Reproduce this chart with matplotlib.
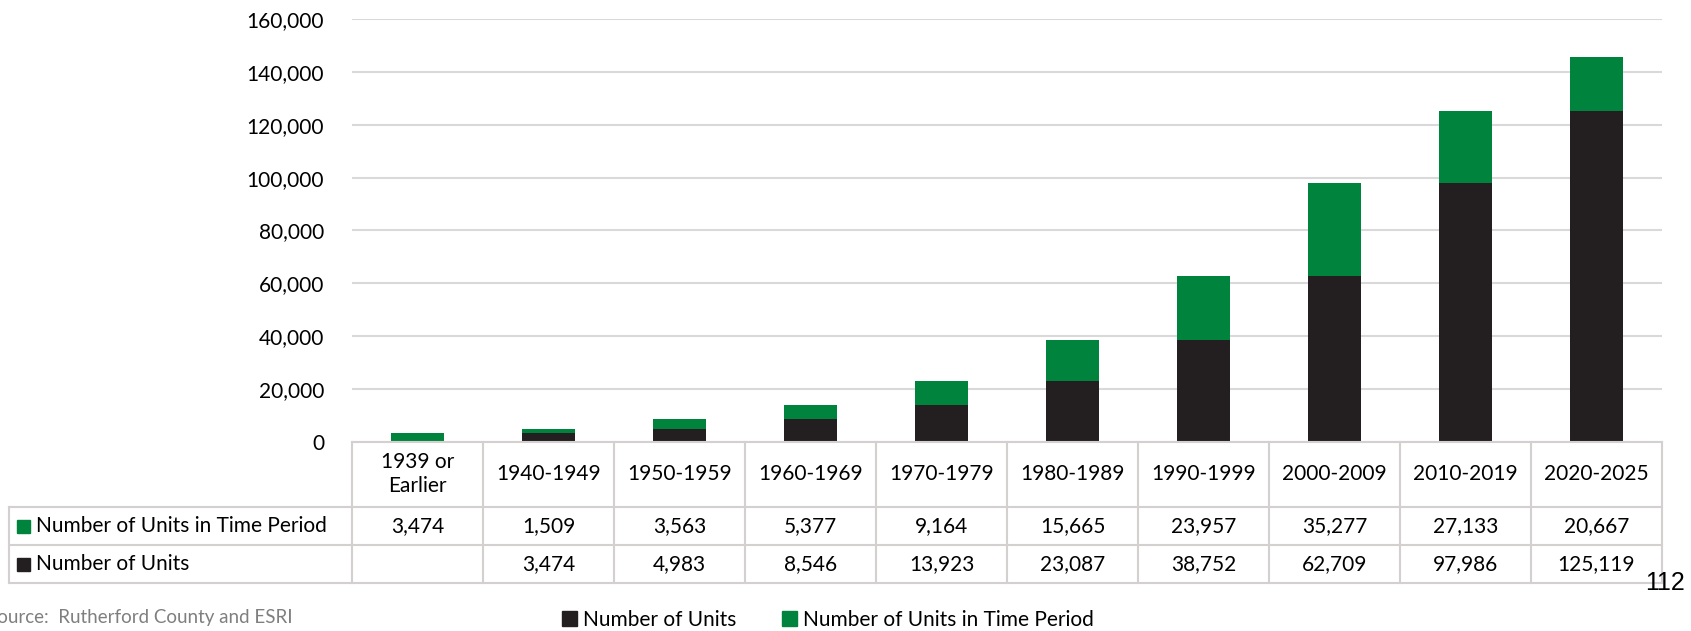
import matplotlib.pyplot as plt
from matplotlib.lines import Line2D
from matplotlib.patches import Patch, Rectangle
import numpy as np

categories = ["1939 or\nEarlier", "1940-1949", "1950-1959", "1960-1969", "1970-1979",
              "1980-1989", "1990-1999", "2000-2009", "2010-2019", "2020-2025"]
units_in_period = [3474, 1509, 3563, 5377, 9164, 15665, 23957, 35277, 27133, 20667]
number_of_units = [None, 3474, 4983, 8546, 13923, 23087, 38752, 62709, 97986, 125119]
row_names = ["Number of Units in Time Period", "Number of Units"]
yticks = list(range(0, 160001, 20000))
source = "Source:  Rutherford County and ESRI"
page_no = "112"

GREEN = "#00843D"
BLACK = "#231F20"
GRID = "#D9D9D9"
FONT = "Lato"
W, H = 1691, 631

plt.rcParams['font.family'] = [FONT, 'DejaVu Sans']
fig = plt.figure(figsize=(W / 100, H / 100), dpi=100)
ax = fig.add_axes([352 / W, 1 - 442 / H, (1662 - 352) / W, (442 - 19) / H])

x = np.arange(len(categories))
base = [u if u is not None else 0 for u in number_of_units]
ax.bar(x, base, 0.4, color=BLACK, zorder=3)
ax.bar(x, units_in_period, 0.4, bottom=base, color=GREEN, zorder=3)

ax.set_xlim(-0.5, len(categories) - 0.5)
ax.set_ylim(0, 160000)
ax.set_yticks(yticks)
ax.set_yticklabels([f"{v:,}" for v in yticks], fontsize=15, color="#000000")
ax.tick_params(axis='y', length=0, pad=20)
ax.set_xticks([])
ax.grid(axis='y', color=GRID, lw=1.5, zorder=0)
for s in ax.spines.values():
    s.set_visible(False)

# table below the axes
def fx(px):
    return px / W

def fy(py):
    return 1 - py / H

edges = [fig.transFigure.inverted().transform(ax.transData.transform((i - 0.5, 0)))[0]
         for i in range(len(categories) + 1)]
y_top, y_head, y_r1, y_r2 = fy(442), fy(507), fy(545), fy(583)
lab_left = fx(9)
lc = "#D4D0D0"
lw = 1.5

fig.add_artist(Line2D([edges[0], edges[-1]], [y_top, y_top], color=lc, lw=lw))
for yy in (y_head, y_r1, y_r2):
    fig.add_artist(Line2D([lab_left, edges[-1]], [yy, yy], color=lc, lw=lw))
for e in edges:
    fig.add_artist(Line2D([e, e], [y_top, y_r2], color=lc, lw=lw))
fig.add_artist(Line2D([lab_left, lab_left], [y_head, y_r2], color=lc, lw=lw))

for i, cat in enumerate(categories):
    cx = (edges[i] + edges[i + 1]) / 2
    fig.text(cx, (y_top + y_head) / 2, cat, ha='center', va='center', fontsize=15,
             linespacing=1.25)
    fig.text(cx, (y_head + y_r1) / 2, f"{units_in_period[i]:,}", ha='center', va='center',
             fontsize=15)
    if number_of_units[i] is not None:
        fig.text(cx, (y_r1 + y_r2) / 2, f"{number_of_units[i]:,}", ha='center', va='center',
                 fontsize=15)

for name, col, (a, b) in zip(row_names, [GREEN, BLACK], [(y_head, y_r1), (y_r1, y_r2)]):
    yc = (a + b) / 2
    sq = 13
    fig.add_artist(Rectangle((fx(17), yc - sq / 2 / H), sq / W, sq / H, color=col))
    fig.text(fx(36), yc, name, ha='left', va='center', fontsize=15)

fig.text(fx(-13), fy(617), source, ha='left', va='center', fontsize=13.5, color="#7F7F7F")
fig.text(fx(1645), fy(590), page_no, ha='left', va='baseline', fontsize=18,
         family='Liberation Sans')

handles = [Patch(color=BLACK), Patch(color=GREEN)]
fig.legend(handles, [row_names[1], row_names[0]], ncol=2, loc='center',
           bbox_to_anchor=(828 / W, fy(620)), frameon=False, fontsize=15,
           handlelength=0.7, handleheight=0.7, handletextpad=0.3, columnspacing=2.2)

fig.savefig("out.png", dpi=100)
